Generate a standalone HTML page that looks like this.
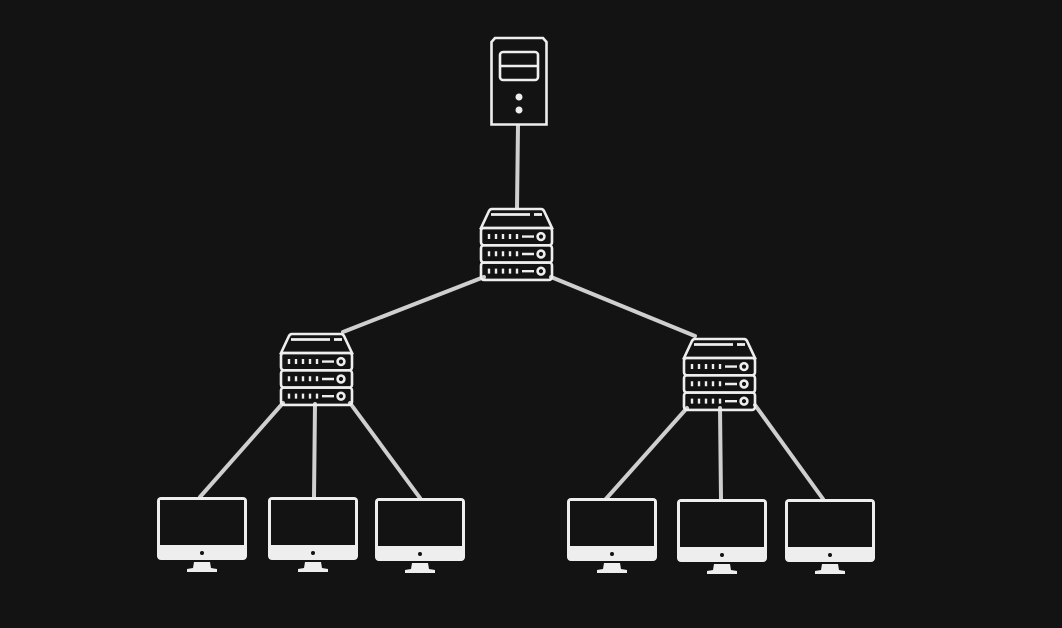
<!DOCTYPE html>
<html><head><style>html,body{margin:0;padding:0;background:#131313;}svg{display:block}</style></head>
<body>
<svg width="1062" height="628" viewBox="0 0 1062 628" xmlns="http://www.w3.org/2000/svg">
<defs>
<g id="sw" fill="none" stroke="#eee" stroke-width="2.6">
<path d="M1,20 L9,3 Q10,1 12,1 L61,1 Q63,1 64,3 L72,20 Z" fill="#131313"/>
<line x1="11" y1="6.5" x2="50" y2="6.5" stroke-width="2.8"/>
<line x1="54" y1="6.5" x2="62" y2="6.5" stroke-width="2.8"/>
<rect x="1" y="20" width="71" height="17.3" rx="3"/>
<rect x="1" y="37.3" width="71" height="17.3" rx="3"/>
<rect x="1" y="54.6" width="71" height="17.3" rx="3"/>
<g stroke-width="2.4">
<path d="M9,26v5M16,26v5M23,26v5M30,26v5M37,26v5M42,28.6h12"/>
<path d="M9,43.3v5M16,43.3v5M23,43.3v5M30,43.3v5M37,43.3v5M42,46h12"/>
<path d="M9,60.6v5M16,60.6v5M23,60.6v5M30,60.6v5M37,60.6v5M42,63.2h12"/>
</g>
<circle cx="61" cy="28.6" r="3.4"/><circle cx="61" cy="46" r="3.4"/><circle cx="61" cy="63.2" r="3.4"/>
</g>
<g id="mon">
<rect x="0" y="0" width="90" height="63" rx="4" fill="#eee"/>
<rect x="3" y="3" width="84" height="45" fill="#131313"/>
<circle cx="45" cy="56" r="2" fill="#131313"/>
<path d="M37,65 L53,65 L54,71 L60,72 L60,75 L30,75 L30,72 L36,71 Z" fill="#eee"/>
</g>
</defs>
<g stroke="#cfcfcf" stroke-width="4" stroke-linecap="round">
<line x1="518" y1="125" x2="517" y2="208"/>
<line x1="484" y1="277" x2="343" y2="332"/>
<line x1="551" y1="277" x2="695" y2="336"/>
<line x1="283" y1="403" x2="200" y2="497"/>
<line x1="315" y1="404" x2="314" y2="497"/>
<line x1="350" y1="403" x2="420" y2="498"/>
<line x1="687" y1="408" x2="605" y2="500"/>
<line x1="720" y1="408" x2="721" y2="499"/>
<line x1="755" y1="405" x2="823" y2="499"/>
</g>
<g fill="#131313" stroke="#eee" stroke-width="2.6">
<path d="M491.5,42 L495,38 L543,38 L546.5,42 L546.5,124.5 L491.5,124.5 Z"/>
<rect x="500" y="52" width="38" height="28" rx="3"/>
<line x1="500" y1="66" x2="538" y2="66"/>
</g>
<circle cx="519" cy="97" r="3.5" fill="#eee"/>
<circle cx="519" cy="110" r="3.5" fill="#eee"/>
<use href="#sw" x="480" y="208"/>
<use href="#sw" x="280" y="333"/>
<use href="#sw" x="683" y="338"/>
<use href="#mon" x="157" y="497"/>
<use href="#mon" x="268" y="497"/>
<use href="#mon" x="375" y="498"/>
<use href="#mon" x="567" y="498"/>
<use href="#mon" x="677" y="499"/>
<use href="#mon" x="785" y="499"/>
</svg>
</body></html>
